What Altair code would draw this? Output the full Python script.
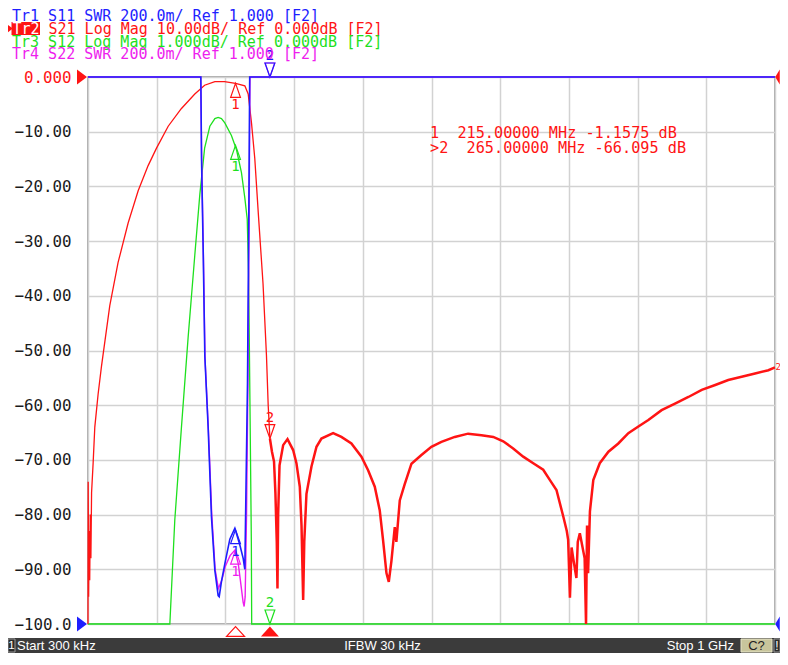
import altair as alt
import pandas as pd

# ---------------- data (frequency in MHz) ----------------
S21_FREQ = [0.3, 0.6, 1.2, 2.0, 2.8, 3.6, 4.5, 5.5, 7.8, 10.2, 15.0, 19.9, 32.0, 44.1, 58.7,
            73.3, 87.8, 100.0, 117.0, 136.0, 155.7, 170.0, 184.9, 199.0, 215.0, 228.5, 233.4,
            238.2, 243.0, 248.0, 255.0, 260.0, 262.5, 265.0, 268.0, 271.0, 273.0, 275.0, 276.0,
            277.0, 279.0, 284.3, 290.6, 298.8, 303.6, 308.5, 311.0, 313.4, 315.0, 318.2, 325.5,
            332.8, 340.0, 357.0, 369.0, 383.6, 398.2, 407.9, 417.6, 424.8, 429.7, 434.6, 438.0,
            441.9, 446.7, 449.0, 454.0, 461.3, 471.0, 485.5, 500.0, 514.6, 534.0, 553.4, 572.8,
            590.0, 604.5, 619.0, 633.6, 648.2, 662.7, 672.5, 682.0, 692.0, 697.0, 699.0, 701.6,
            704.0, 706.4, 711.0, 713.0, 716.0, 720.0, 723.0, 725.0, 726.5, 728.0, 730.7, 735.6,
            745.0, 757.6, 772.0, 786.6, 801.2, 815.7, 835.0, 854.5, 874.0, 893.4, 913.0, 932.0,
            951.5, 971.0, 990.4, 1000.0]
S21_DB = [-100.0, -74.0, -95.0, -83.0, -92.0, -80.0, -88.0, -76.0, -70.5, -64.0, -58.0, -52.9,
          -41.8, -33.9, -26.7, -20.8, -16.2, -13.0, -9.0, -5.8, -3.1, -1.5, -0.85, -0.85, -1.16,
          -1.6, -3.1, -8.4, -14.9, -24.7, -37.8, -50.9, -60.0, -66.1, -68.5, -70.3, -76.0, -85.0,
          -93.5, -80.0, -71.0, -67.3, -66.2, -68.2, -70.6, -74.9, -82.0, -95.6, -85.0, -76.2,
          -71.2, -67.6, -66.1, -65.1, -65.8, -67.0, -69.4, -71.9, -74.9, -79.2, -84.7, -90.7,
          -92.3, -88.4, -82.3, -85.0, -77.4, -74.4, -70.7, -69.1, -67.6, -66.7, -65.8, -65.2,
          -65.5, -65.8, -66.6, -67.9, -69.4, -70.6, -71.8, -73.7, -75.5, -80.4, -83.0, -84.6,
          -95.2, -86.0, -88.0, -91.6, -85.0, -83.4, -86.0, -88.0, -100.0, -82.0, -90.7, -79.4,
          -73.7, -70.6, -68.5, -67.0, -65.1, -63.9, -62.7, -60.9, -59.7, -58.5, -57.2, -56.3,
          -55.4, -54.8, -54.2, -53.6, -53.1]

S12_FREQ = [0.3, 119.4, 126.6, 136.3, 146.0, 155.7, 163.0, 170.0, 177.6, 184.9, 189.7, 194.5,
            199.4, 209.0, 216.4, 223.6, 228.5, 232.0, 234.0, 236.0, 238.0, 238.5, 1000.0]
S12_DB = [-10.0, -10.0, -8.1, -6.4, -4.76, -3.26, -2.15, -1.30, -0.90, -0.76, -0.74, -0.76,
          -0.84, -1.07, -1.33, -1.75, -2.21, -2.6, -3.6, -6.0, -8.5, -10.0, -10.0]

S11_FREQ = [0.3, 164.5, 165.5, 167.9, 170.3, 175.1, 180.0, 184.9, 189.7, 191.2, 194.6, 199.4,
            206.7, 214.0, 221.2, 226.1, 228.5, 230.0, 232.4, 234.3, 235.6, 1000.0]
S11_SWR = [3.0, 3.0, 2.70, 2.37, 1.98, 1.72, 1.39, 1.196, 1.104, 1.10, 1.157, 1.22, 1.31, 1.35,
           1.29, 1.24, 1.20, 1.46, 1.88, 2.5, 3.0, 3.0]

S22_FREQ = [0.3, 164.3, 165.8, 168.2, 170.6, 175.5, 180.4, 185.3, 190.0, 195.0, 200.0, 207.0,
            214.0, 219.0, 223.0, 226.0, 227.5, 229.0, 231.0, 233.0, 234.8, 236.0, 1000.0]
S22_SWR = [3.0, 3.0, 2.68, 2.35, 1.97, 1.71, 1.40, 1.20, 1.13, 1.16, 1.21, 1.25, 1.27, 1.22,
           1.14, 1.08, 1.064, 1.10, 1.40, 1.88, 2.5, 3.0, 3.0]

MARKER_FREQ = [215.0, 265.0]
MARKER_LABELS = ["1", "2"]
S21_MARK = [-1.1575, -66.095]
S12_MARK = [-1.25, -10.0]
S11_MARK = [1.345, 3.0]
S22_MARK = [1.27, 3.0]

REF_S21 = 0.0      # dB, ref level of the active trace
REF_S11 = 1.0      # SWR, ref level of Tr1

HEADER = ["Tr1 S11 SWR 200.0m/ Ref 1.000 [F2]",
          "Tr2",
          "S21 Log Mag 10.00dB/ Ref 0.000dB [F2]",
          "Tr3 S12 Log Mag 1.000dB/ Ref 0.000dB [F2]",
          "Tr4 S22 SWR 200.0m/ Ref 1.000 [F2]"]
READOUT = ["\u00a01\u00a0\u00a0215.00000 MHz -1.1575 dB",
           ">2\u00a0\u00a0265.00000 MHz -66.095 dB"]
STATUS = ["1", "Start 300 kHz", "IFBW 30 kHz", "Stop 1 GHz", "C?", "!"]

Y_TICKS = [-100, -90, -80, -70, -60, -50, -40, -30, -20, -10, 0]
X_GRID = [0.3 + k * 99.97 for k in range(11)]

# ---------------- styling ----------------
RED = "#ff1414"
BLUE = "#1e1eff"
GREEN = "#1ee01e"
MAGENTA = "#ee1eee"
GRID = "#d2d2d2"
MONO = "DejaVu Sans Mono"
SANS = "Liberation Sans"
HDR = 15.0


def disp_db10(v):   # 10 dB/div, ref 0 at top
    return v


def disp_db1(v):    # 1 dB/div, ref 0 at top
    return v * 10.0


def disp_swr(v):    # 200m/div, ref 1.000 at bottom
    return -100.0 + (v - 1.0) / 0.2 * 10.0


def frame(freqs, vals, conv):
    return pd.DataFrame({"f": freqs, "disp": [conv(v) for v in vals]})


def marks(vals, conv):
    return pd.DataFrame({"f": MARKER_FREQ, "disp": [conv(v) for v in vals], "label": MARKER_LABELS})


xenc = alt.X("f:Q", scale=alt.Scale(domain=[0.3, 1000], nice=False, zero=False),
             axis=alt.Axis(values=X_GRID, labels=False, ticks=False, domain=False, grid=True,
                           gridColor=GRID, gridWidth=1.5, title=None))
yenc = alt.Y("disp:Q", scale=alt.Scale(domain=[-100, 0], nice=False, zero=False, clamp=True),
             axis=alt.Axis(values=Y_TICKS, grid=True, gridColor=GRID, gridWidth=1.5,
                           labelExpr="datum.value == 0 ? '0.000' : format(datum.value, '.4r')",
                           ticks=False, domain=False, labelPadding=17, labelFont=MONO,
                           labelFontSize=15.8,
                           labelColor=alt.condition("datum.value == 0", alt.value(RED), alt.value("#1a1a1a")),
                           title=None))

UP = "M0,-1L0.7,1L-0.7,1Z"
DOWN = "M0,1L0.7,-1L-0.7,-1Z"
RIGHT = "M-0.67,-1L0.67,0L-0.67,1Z"
LEFT = "M0.3,-1L-0.3,0L0.3,1Z"
STIM = "M0,-0.55L1,0.55L-1,0.55Z"

ONE = alt.Data(values=[{}])


def line(df, color, width):
    return alt.Chart(df).mark_line(color=color, strokeWidth=width).encode(x=xenc, y=yenc)


def marker_layers(df, color):
    m1 = df[df["label"] == "1"]
    m2 = df[df["label"] == "2"]
    return [
        alt.Chart(m1).mark_point(shape=UP, size=196, filled=False, color=color, strokeWidth=1.2,
                                 yOffset=7, opacity=1).encode(x=xenc, y=yenc),
        alt.Chart(m1).mark_text(color=color, font=MONO, fontSize=14, dy=22).encode(
            x=xenc, y=yenc, text="label:N"),
        alt.Chart(m2).mark_point(shape=DOWN, size=196, filled=False, color=color, strokeWidth=1.2,
                                 yOffset=-7, opacity=1).encode(x=xenc, y=yenc),
        alt.Chart(m2).mark_text(color=color, font=MONO, fontSize=14, dy=-21).encode(
            x=xenc, y=yenc, text="label:N"),
    ]


def label(text, x, y, color, size=HDR, font=MONO, align="left"):
    return alt.Chart(ONE).mark_text(text=text, align=align, baseline="middle", color=color,
                                    font=font, fontSize=size).encode(x=alt.value(x), y=alt.value(y))


def box(x1, x2, y1, y2, fill, stroke=None):
    kw = dict(color=fill)
    if stroke:
        kw.update(stroke=stroke, strokeWidth=1)
    return alt.Chart(ONE).mark_rect(**kw).encode(
        x=alt.value(x1), x2=alt.value(x2), y=alt.value(y1), y2=alt.value(y2))


s21 = frame(S21_FREQ, S21_DB, disp_db10)
s21_pass = s21[s21["f"] <= 265.0]
s21_stop = s21[s21["f"] >= 265.0]
s12 = frame(S12_FREQ, S12_DB, disp_db1)
s11 = frame(S11_FREQ, S11_SWR, disp_swr)
s22 = frame(S22_FREQ, S22_SWR, disp_swr)

layers = [
    line(s12, GREEN, 1.3),
    line(s21_pass, RED, 1.3),
    line(s21_stop, RED, 2.5),
    line(s22, MAGENTA, 1.4),
    line(s11, BLUE, 1.6),
]
layers += marker_layers(marks(S12_MARK, disp_db1), GREEN)
layers += marker_layers(marks(S22_MARK, disp_swr), MAGENTA)
layers += marker_layers(marks(S11_MARK, disp_swr), BLUE)
layers += marker_layers(marks(S21_MARK, disp_db10), RED)

# trace end label of the active trace
end_df = s21.tail(1).assign(label="2")
layers.append(alt.Chart(end_df).mark_text(color=RED, font=MONO, fontSize=9, align="left", dx=0.5)
              .encode(x=xenc, y=yenc, text="label:N"))

# stimulus indicators under the grid
stim = pd.DataFrame({"f": MARKER_FREQ, "label": MARKER_LABELS})
layers.append(alt.Chart(stim[stim["label"] == "1"]).mark_point(
    shape=STIM, size=324, filled=False, color=RED, strokeWidth=1.2, opacity=1)
    .encode(x=xenc, y=alt.value(554.5)))
layers.append(alt.Chart(stim[stim["label"] == "2"]).mark_point(
    shape=STIM, size=324, filled=True, color=RED, opacity=1)
    .encode(x=xenc, y=alt.value(554.5)))

# reference level arrows
ref_red = pd.DataFrame({"disp": [disp_db10(REF_S21)]})
ref_blue = pd.DataFrame({"disp": [disp_swr(REF_S11)]})
for df, col in [(ref_red, RED), (ref_blue, BLUE)]:
    layers.append(alt.Chart(df).mark_point(shape=RIGHT, size=225, filled=True, color=col, opacity=1)
                  .encode(x=alt.value(-6), y=yenc))
    layers.append(alt.Chart(df).mark_point(shape=LEFT, size=225, filled=True, color=col, opacity=1)
                  .encode(x=alt.value(689.5), y=yenc))

# header (view coordinates: page minus (88, 77))
L1, L2, L3, L4 = -61.3, -48.4, -35.5, -22.6
layers += [
    label(HEADER[0], -76, L1, BLUE),
    box(-76.5, -48, L2 - 6.6, L2 + 6.4, RED),
    label(HEADER[1], -75.5, L2, "white"),
    label(HEADER[2], -39.5, L2, RED),
    alt.Chart(ONE).mark_point(shape=RIGHT, size=100, filled=True, color=RED, opacity=1)
    .encode(x=alt.value(-78.5), y=alt.value(L2)),
    label(HEADER[3], -76, L3, GREEN),
    label(HEADER[4], -76, L4, MAGENTA),
]

# marker readout
layers += [
    label(READOUT[0], 342, 56, RED, size=15.2),
    label(READOUT[1], 342, 70.5, RED, size=15.2),
]

# status bar
BY = 569
layers += [
    box(-80, 692, 561, 576, "#3b3b3b"),
    box(-80, -73, 562, 575, "#2b2b2b", "#9a9a9a"),
    label(STATUS[0], -76.5, BY, "white", size=11.5, font=SANS, align="center"),
    label(STATUS[1], -71, BY, "white", size=13, font=SANS),
    label(STATUS[2], 294.5, BY, "white", size=13, font=SANS, align="center"),
    label(STATUS[3], 646, BY, "white", size=13, font=SANS, align="right"),
    box(653, 684, 562, 575, "#c8c59c", "#e6e4c8"),
    label(STATUS[4], 668.5, BY, "#222222", size=13, font=SANS, align="center"),
    box(686, 692, 562, 575, "#2b2b2b", "#9a9a9a"),
    label(STATUS[5], 689, BY, "white", size=12, font=SANS, align="center"),
]

chart = alt.layer(*layers).properties(
    width=687, height=547,
    padding={"left": 80, "top": 69, "right": 5, "bottom": 29},
    autosize=alt.AutoSizeParams(type="none"),
    background="white",
).configure_view(stroke="#8c8c8c", strokeWidth=1.5)

chart.save("out.html", embed_options={"renderer": "svg", "actions": False})
